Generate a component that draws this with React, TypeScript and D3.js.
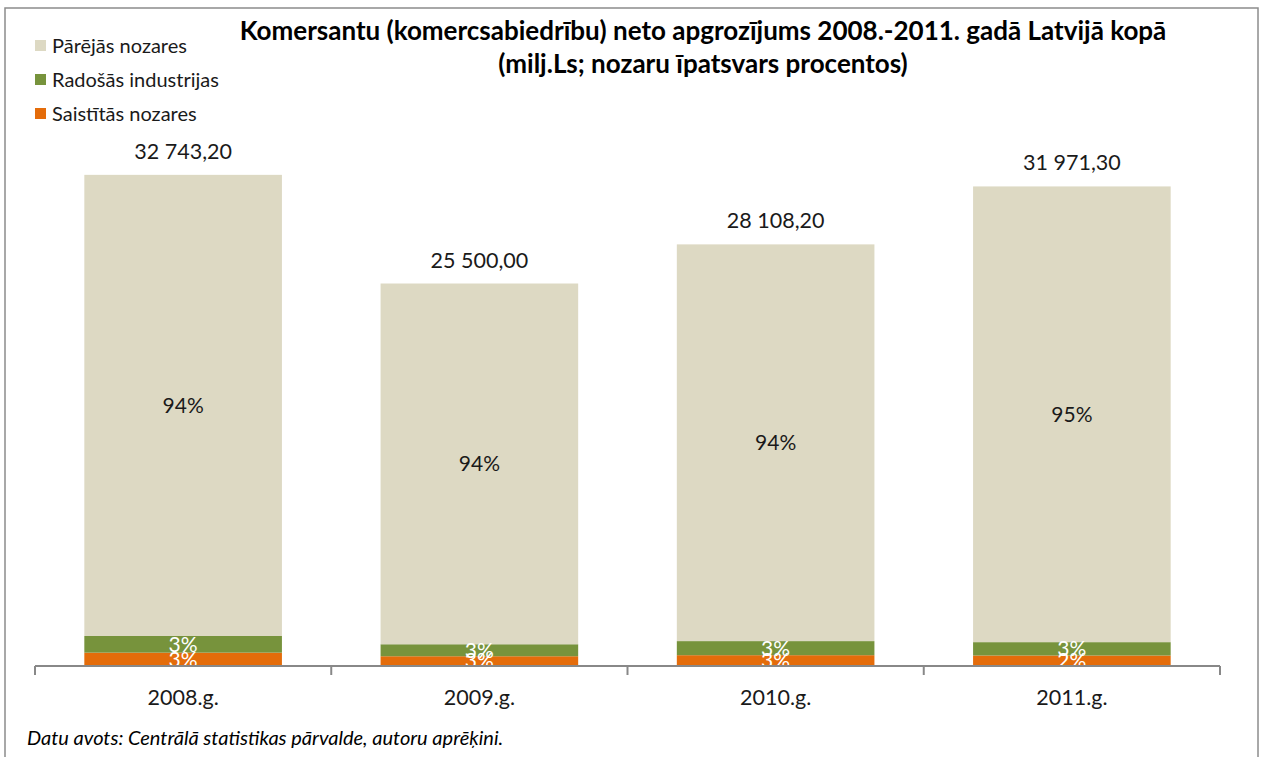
import { useEffect, useRef } from 'react';
import * as d3 from 'd3';

const years = ['2008.g.', '2009.g.', '2010.g.', '2011.g.'];
const totals = [32743.2, 25500.0, 28108.2, 31971.3];
const saistitas = [890, 650, 720, 700];
const radosas = [1110, 800, 940, 890];
const seriesNames = ['Saistītās nozares', 'Radošās industrijas', 'Pārējās nozares'];
const seriesColors = ['#E46C0A', '#77933C', '#DDD9C3'];

const W = 1262;
const H = 757;
const FONT = 'Lato, "Open Sans", sans-serif';

const App = () => {
  const svgRef = useRef<SVGSVGElement | null>(null);

  useEffect(() => {
    document.body.style.margin = '0';
    const svg = d3.select(svgRef.current);
    svg.selectAll('*').remove();

    // rows: one object per year
    const rows = years.map((y, i) => ({
      year: y,
      total: totals[i],
      s0: saistitas[i],
      s1: radosas[i],
      s2: totals[i] - saistitas[i] - radosas[i],
    }));

    const x = d3.scaleBand().domain(years).range([35, 1220]).paddingInner(0.333).paddingOuter(0.1665);
    const y = d3.scaleLinear().domain([0, 35000]).range([666, 141]);

    const stack = d3.stack<any>().keys(['s0', 's1', 's2']);
    const layers = stack(rows);

    // frame
    svg.append('rect')
      .attr('x', 5).attr('y', 8).attr('width', 1253).attr('height', 760)
      .attr('fill', '#fff').attr('stroke', '#8c8c8c').attr('stroke-width', 1.5);

    // bars
    const g = svg.append('g');
    layers.forEach((layer, li) => {
      g.append('g').selectAll('rect')
        .data(layer)
        .join('rect')
        .attr('x', (d: any) => x(d.data.year)!)
        .attr('width', x.bandwidth())
        .attr('y', (d: any) => y(d[1]))
        .attr('height', (d: any) => y(d[0]) - y(d[1]))
        .attr('fill', seriesColors[li]);
    });

    // percent labels
    layers.forEach((layer, li) => {
      g.append('g').selectAll('text')
        .data(layer)
        .join('text')
        .attr('x', (d: any) => x(d.data.year)! + x.bandwidth() / 2)
        .attr('y', (d: any) => (y(d[0]) + y(d[1])) / 2)
        .attr('dy', '0.35em')
        .attr('text-anchor', 'middle')
        .style('font-family', FONT)
        .style('font-size', '21px')
        .style('fill', li === 2 ? '#1a1a1a' : '#ffffff')
        .text((d: any) => Math.round(((d[1] - d[0]) / d.data.total) * 100) + '%');
    });

    // totals above bars
    const fmt = (v: number) => d3.format(',.2f')(v).replace(/,/g, ' ').replace('.', ',');
    g.append('g').selectAll('text')
      .data(rows)
      .join('text')
      .attr('x', (d) => x(d.year)! + x.bandwidth() / 2)
      .attr('y', (d) => y(d.total) - 16)
      .attr('text-anchor', 'middle')
      .style('font-family', FONT)
      .style('font-size', '21.5px')
      .style('fill', '#1a1a1a')
      .text((d) => fmt(d.total));

    // x axis
    const axis = svg.append('g');
    axis.append('line')
      .attr('x1', 35).attr('x2', 1220).attr('y1', 666).attr('y2', 666)
      .attr('stroke', '#888').attr('stroke-width', 2);
    const edges = years.map((yr) => x(yr)! - (x.step() * x.paddingInner()) / 2);
    edges.push(1220);
    axis.selectAll('line.tick')
      .data(edges)
      .join('line')
      .attr('class', 'tick')
      .attr('x1', (d) => d).attr('x2', (d) => d)
      .attr('y1', 666).attr('y2', 675)
      .attr('stroke', '#888').attr('stroke-width', 2);
    axis.selectAll('text')
      .data(years)
      .join('text')
      .attr('x', (d) => x(d)! + x.bandwidth() / 2)
      .attr('y', 705)
      .attr('text-anchor', 'middle')
      .style('font-family', FONT)
      .style('font-size', '21.5px')
      .style('fill', '#1a1a1a')
      .text((d) => d);

    // title
    const title = svg.append('text')
      .attr('text-anchor', 'middle')
      .style('font-family', FONT)
      .style('font-weight', 'bold')
      .style('font-size', '26px')
      .style('fill', '#000');
    title.append('tspan').attr('x', 703).attr('y', 40)
      .text('Komersantu (komercsabiedrību) neto apgrozījums 2008.-2011. gadā Latvijā kopā');
    title.append('tspan').attr('x', 703).attr('y', 73)
      .text('(milj.Ls; nozaru īpatsvars procentos)');

    // legend (top to bottom reversed)
    const legend = svg.append('g');
    const legendItems = [2, 1, 0];
    legendItems.forEach((si, i) => {
      const cy = 46 + i * 34;
      legend.append('rect')
        .attr('x', 35).attr('y', cy - 6).attr('width', 11).attr('height', 11)
        .attr('fill', seriesColors[si]);
      legend.append('text')
        .attr('x', 52).attr('y', cy)
        .attr('dy', '0.35em')
        .style('font-family', FONT)
        .style('font-size', '20px')
        .style('fill', '#1a1a1a')
        .text(seriesNames[si]);
    });

    // source
    svg.append('text')
      .attr('x', 27).attr('y', 745)
      .style('font-family', FONT)
      .style('font-style', 'italic')
      .style('font-size', '20px')
      .style('fill', '#000')
      .text('Datu avots: Centrālā statistikas pārvalde, autoru aprēķini.');
  }, []);

  return <svg ref={svgRef} width={W} height={H} style={{ display: 'block' }} />;
};

export default App;
